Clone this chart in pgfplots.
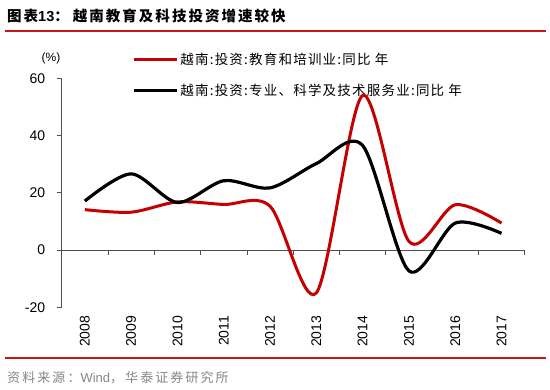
\documentclass[border=0pt]{standalone}
\usepackage{fontspec}
\usepackage{pgfplots}
\pgfplotsset{compat=1.18}
\setmainfont{Liberation Sans}
\newfontfamily\cjk{Noto Sans CJK SC}[LetterSpace=9]
\newfontfamily\cjktitle{Noto Sans CJK SC}[LetterSpace=14]
\newfontfamily\cjksrc{Noto Sans CJK SC}[LetterSpace=16]
\definecolor{redline}{RGB}{196,0,0}
\definecolor{rulered}{RGB}{205,20,20}
\definecolor{axgray}{RGB}{80,80,80}
\definecolor{srcgray}{RGB}{135,135,135}
\begin{document}
\begin{tikzpicture}[x=1pt,y=1pt]
\fill[white] (0,0) rectangle (550,390);
\node[anchor=west, inner sep=0] at (7,374) {\fontsize{14.5}{16}\selectfont\cjktitle\bfseries 图表{\rmfamily\bfseries 13}：\hspace{4pt}越南教育及科技投资增速较快};
\draw[rulered, line width=2pt] (5,359) -- (546,359);
\draw[rulered, line width=2pt] (5,32) -- (546,32);
\node[anchor=west, inner sep=0, text=srcgray] at (7,12) {\fontsize{13}{14}\selectfont\cjksrc 资料来源：{\rmfamily Wind}，华泰证券研究所};
\node[anchor=center, inner sep=0] at (51,332) {\fontsize{12}{12}\selectfont (\%)};
\begin{axis}[
  at={(61.7pt,82.8pt)}, anchor=south west,
  scale only axis, width=463pt, height=228.9pt,
  xmin=2007.5, xmax=2017.5, ymin=-20, ymax=60,
  axis x line*=bottom, axis y line*=left,
  x axis line style={draw=none},
  y axis line style={draw=axgray, line width=0.8pt, -},
  xtick={2008,2009,2010,2011,2012,2013,2014,2015,2016,2017},
  xticklabels={2008,2009,2010,2011,2012,2013,2014,2015,2016,2017},
  xtick style={draw=none},
  ytick={-20,0,20,40,60},
  ytick style={draw=axgray, line width=0.8pt},
  tick align=outside, major tick length=5pt,
  /pgf/number format/assume math mode=true,
  xticklabel style={rotate=90, anchor=east, font=\fontsize{14}{14}\selectfont},
  yticklabel style={font=\fontsize{14}{14}\selectfont, xshift=-8pt},
  clip=false,
  legend style={at={(0.1533,1.12)}, anchor=north west, draw=none, fill=none,
    font=\fontsize{13.5}{13.5}\selectfont\cjk, row sep=14pt, inner sep=0pt},
  legend cell align=left,
  legend image code/.code={\draw[#1] (0pt,0pt) -- (42.3pt,0pt);},
]
\draw[axgray, line width=0.8pt] (axis cs:2007.5,0) -- (axis cs:2017.5,0);
\pgfplotsinvokeforeach{2008.5,2009.5,2010.5,2011.5,2012.5,2013.5,2014.5,2015.5,2016.5,2017.5}{
  \draw[axgray, line width=0.8pt] (axis cs:#1,0) -- ([yshift=-5pt]axis cs:#1,0);
}
\addplot[redline, line width=3pt, smooth] coordinates {
(2008,14.1) (2009,13.2) (2010,16.8) (2011,15.9) (2012,15.3) (2013,-15) (2014,54) (2015,3) (2016,15.8) (2017,9.4)};
\addlegendentry{越南:投资:教育和培训业:同比 年}
\addplot[black, line width=3.2pt, smooth] coordinates {
(2008,17.1) (2009,26.6) (2010,16.6) (2011,24.2) (2012,21.7) (2013,30.2) (2014,36.5) (2015,-7.3) (2016,9.4) (2017,5.8)};
\addlegendentry{越南:投资:专业、科学及技术服务业:同比 年}
\end{axis}
\end{tikzpicture}
\end{document}
